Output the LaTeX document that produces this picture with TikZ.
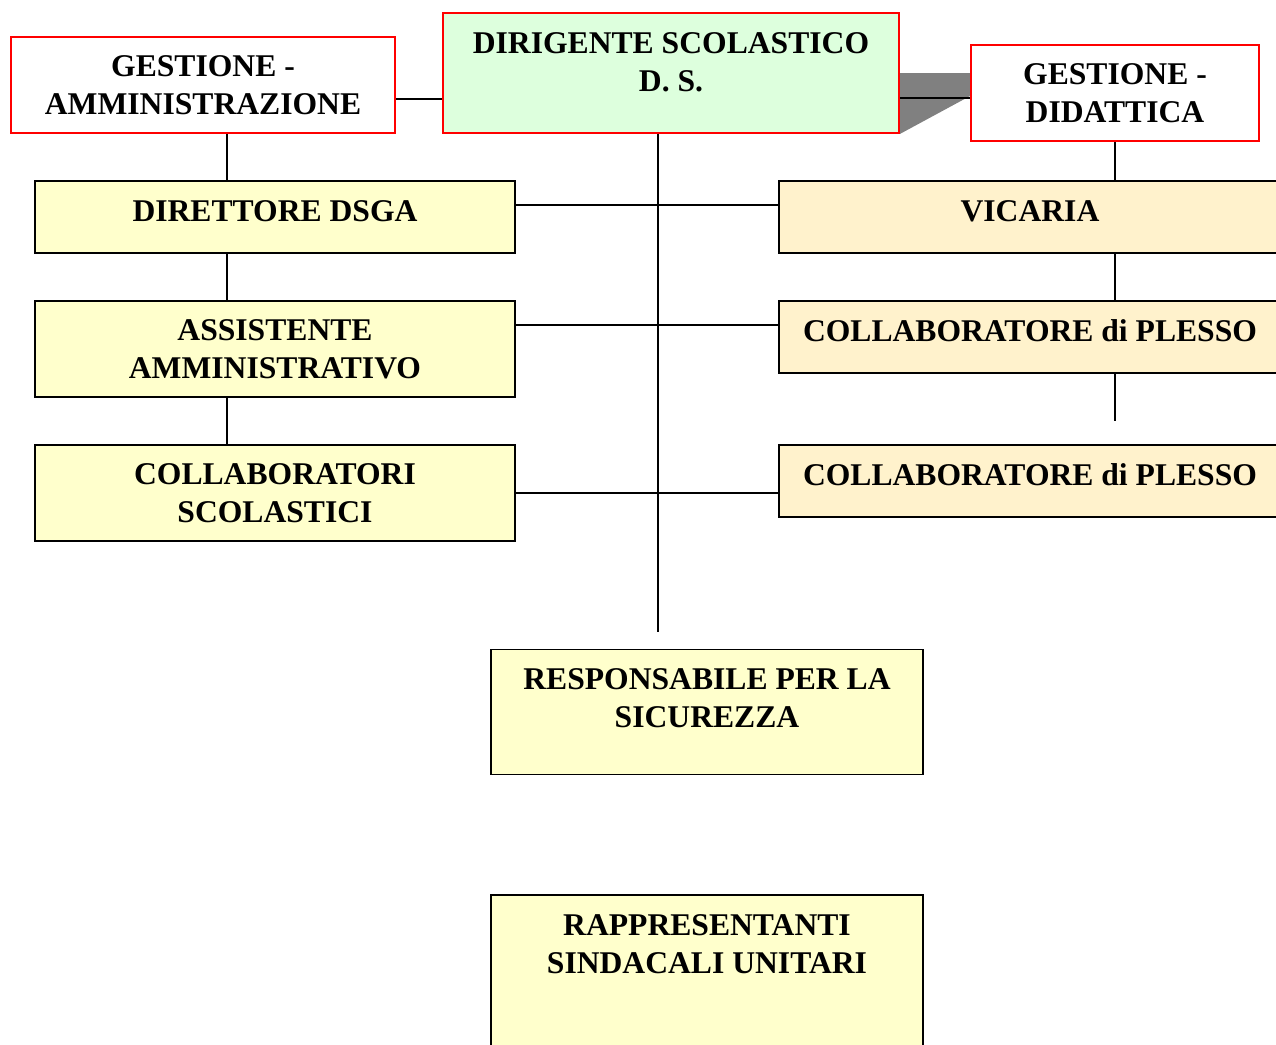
\documentclass[tikz,border=0pt]{standalone}
\usepackage{fontspec}
\setmainfont{Liberation Serif}
\definecolor{dsgreen}{HTML}{DDFFDD}
\definecolor{boxyellow}{HTML}{FFFFCC}
\definecolor{boxcream}{HTML}{FFF2CC}
\definecolor{shadegray}{HTML}{808080}
\usetikzlibrary{backgrounds}

\begin{document}
\begin{tikzpicture}[x=0.02cm, y=-0.02cm,
    font=\fontsize{18}{21.5}\selectfont\bfseries,
    line width=1.1pt,
    box/.style={rectangle, draw=black, align=center, inner sep=0pt},
    redbox/.style={box, draw=red, fill=white},
    leftbox/.style={box, fill=boxyellow, minimum width=9.6cm},
    rightbox/.style={box, fill=boxcream, minimum width=10.04cm, minimum height=1.44cm},
    raised/.style={text depth=7pt},
    toptext/.style={label={[anchor=north, align=center, inner sep=0pt, yshift=-0.39cm]north:#1}}]
        \useasboundingbox (0,0) rectangle (1276,1045);
        \clip (0,0) rectangle (1276,1045);
        % top row
        \node[redbox, minimum width=7.68cm, minimum height=1.92cm] (ga) at (203,85)
          {GESTIONE -\\AMMINISTRAZIONE};
        \node[box, draw=red, fill=dsgreen, minimum width=9.12cm, minimum height=2.4cm,
          toptext={DIRIGENTE SCOLASTICO\\D. S.}] (ds) at (671,73) {};
        \node[redbox, minimum width=5.76cm, minimum height=1.92cm] (gd) at (1115,93)
          {GESTIONE -\\DIDATTICA};
        % left column
        \node[leftbox, raised, minimum height=1.44cm] (dsga) at (275,217) {DIRETTORE DSGA};
        \node[leftbox, minimum height=1.92cm] (ass) at (275,349) {ASSISTENTE\\AMMINISTRATIVO};
        \node[leftbox, minimum height=1.92cm] (cols) at (275,493) {COLLABORATORI\\SCOLASTICI};
        % right column
        \node[rightbox, raised] (vic) at (1030,217) {VICARIA};
        \node[rightbox, raised] (cp1) at (1030,337) {COLLABORATORE di PLESSO};
        \node[rightbox, raised] (cp2) at (1030,481) {COLLABORATORE di PLESSO};
        % bottom
        \node[box, fill=boxyellow, minimum width=8.64cm, minimum height=2.5cm,
          toptext={RESPONSABILE PER LA\\SICUREZZA}] (resp) at (707,712) {};
        \node[box, fill=boxyellow, minimum width=8.64cm, minimum height=3.4cm,
          toptext={RAPPRESENTANTI\\SINDACALI UNITARI}] (rsu) at (707,980) {};

        \coordinate (lx) at (227,0);
        \coordinate (mid) at (658,632);
        \coordinate (cpend) at (1115,421);
        \begin{scope}[on background layer]
          \fill[shadegray] (ds.east |- 0,73) -- (gd.west |- 0,73)
            -- (gd.west |- 0,96) -- (ds.south east) -- cycle;
        \end{scope}
        \draw (ga.east |- 0,99) -- (ds.west |- 0,99);
        \draw (ds.east |- 0,98) -- (gd.west |- 0,98);
        \draw (lx |- ga.south) -- (lx |- dsga.north);
        \draw (lx |- dsga.south) -- (lx |- ass.north);
        \draw (lx |- ass.south) -- (lx |- cols.north);
        \draw (gd.south) -- (gd.south |- vic.north);
        \draw (vic.south -| gd.south) -- (cp1.north -| gd.south);
        \draw (cp1.south -| gd.south) -- (cpend);
        \draw ([yshift=0.24cm]dsga.east) coordinate (h1) -- (h1 -| vic.west);
        \draw ([yshift=0.48cm]ass.east) coordinate (h2) -- (h2 -| cp1.west);
        \draw (cols.east) -- (cols.east -| cp2.west);
        \draw (mid |- ds.south) -- (mid);
      \end{tikzpicture}
\end{document}
